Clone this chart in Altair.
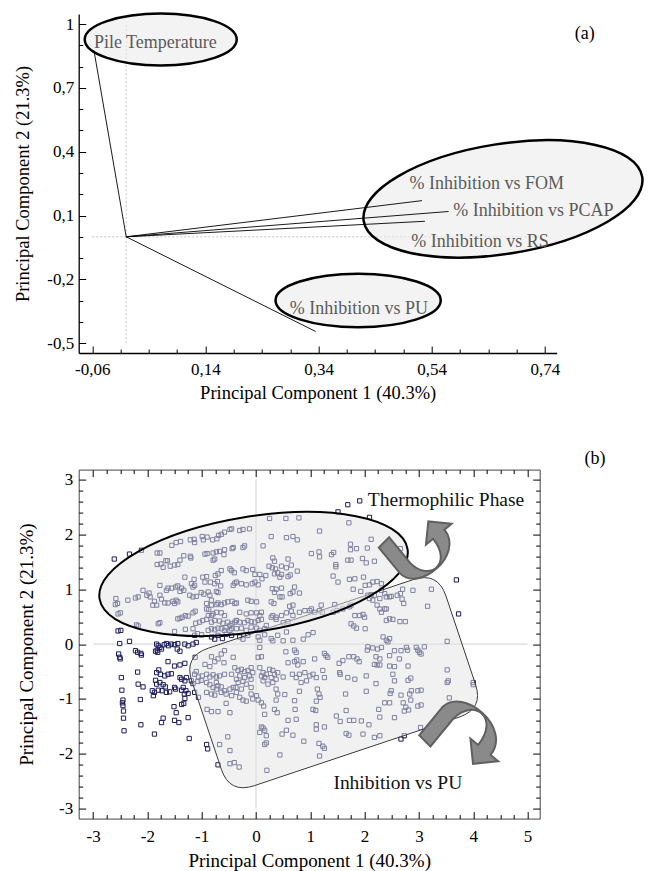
import altair as alt
import pandas as pd

FONT = "Liberation Serif"
NAVY = "#1c1c5c"

# ================= Panel (a): loadings =================
load_names = ["Pile Temperature", "% Inhibition vs FOM", "% Inhibition vs PCAP",
              "% Inhibition vs RS", "% Inhibition vs PU"]
load_pc1 = [-0.057, 0.523, 0.570, 0.528, 0.335]
load_pc2 = [0.875, 0.170, 0.119, 0.073, -0.445]
label_pc1 = [-0.057, 0.501, 0.578, 0.504, 0.289]
label_pc2 = [0.909, 0.249, 0.120, -0.025, -0.338]

a_x_major = [-0.06, 0.14, 0.34, 0.54, 0.74]
a_x_minor = [-0.01, 0.04, 0.09, 0.19, 0.24, 0.29, 0.39, 0.44, 0.49, 0.59, 0.64, 0.69]
a_y_major = [-0.5, -0.2, 0.1, 0.4, 0.7, 1.0]
a_y_minor = [-0.4, -0.3, -0.1, 0.0, 0.2, 0.3, 0.5, 0.6, 0.8, 0.9]
a_x_domain = [-0.084, 0.761]
a_y_domain = [-0.546, 1.047]

# annotation ellipses in (a): centre (data), half axes (px), tilt (deg)
a_ell_pc1 = [0.061, 0.666, 0.410]
a_ell_pc2 = [0.927, 0.178, -0.299]
a_ell_rx = [76, 141, 82.6]
a_ell_ry = [26, 55, 26.7]
a_ell_tilt = [0, 9, 0]

# ================= Panel (b): scores =================
scores_upper_left = [
    (-2.61, 1.55), (-2.33, 1.64), (-2.11, 1.71),
    (-1.82, 1.66), (-1.77, 1.66), (-1.66, 1.52), (-1.63, 1.52), (-1.82, 1.45), (-1.75, 1.46), (-1.71, 1.40),
    (-1.58, 1.42), (-1.50, 1.44), (-1.44, 1.45), (-1.40, 1.53),
    (-1.55, 1.80), (-1.47, 1.85), (-1.39, 1.87), (-1.33, 1.61),
    (-1.21, 1.90), (-1.14, 1.91), (-1.13, 1.85), (-1.21, 1.60), (-1.20, 1.57),
    (-0.99, 1.96), (-0.90, 1.95), (-0.97, 1.90), (-0.80, 1.90), (-0.72, 1.92), (-0.69, 1.98), (-0.64, 2.00),
    (-0.58, 2.04), (-0.48, 2.09), (-0.45, 2.10),
    (-0.94, 1.64), (-0.90, 1.65), (-0.79, 1.66), (-0.73, 1.68), (-0.67, 1.69), (-0.58, 1.72), (-0.59, 1.63),
    (-0.44, 1.74), (-0.42, 1.76), (-0.79, 1.53), (-0.76, 1.55),
    (-1.31, 1.22), (-1.14, 1.18), (-1.13, 1.07), (-1.19, 1.10), (-1.16, 1.04),
    (-0.98, 1.22), (-0.91, 1.23), (-0.94, 1.13),
    (-0.75, 1.25), (-0.70, 1.28), (-0.64, 1.34), (-0.48, 1.37), (-0.45, 1.34), (-0.40, 1.30),
    (-0.84, 1.13), (-0.76, 1.10), (-0.65, 1.06), (-0.71, 1.14), (-0.42, 1.07), (-0.39, 1.11),
    (-1.48, 1.04), (-1.44, 1.06), (-1.37, 1.02), (-1.40, 0.96), (-1.33, 0.98), (-1.55, 1.02), (-1.62, 1.02), (-1.65, 0.98),
    (-1.77, 1.07), (-1.77, 0.89),
    (-1.97, 0.93), (-2.01, 0.89), (-1.95, 0.86), (-2.08, 0.98), (-2.17, 0.86), (-2.22, 0.84), (-2.36, 0.80),
    (-2.58, 0.83), (-2.55, 0.74), (-2.59, 0.72), (-2.54, 0.55), (-2.50, 0.57),
    (-1.90, 0.71), (-1.87, 0.78), (-1.83, 0.71),
    (-1.74, 0.82), (-1.68, 0.75), (-1.62, 0.75), (-1.53, 0.78), (-1.47, 0.80), (-1.50, 0.74), (-1.44, 0.77),
    (-1.22, 0.89), (-1.16, 0.86), (-1.10, 0.87),
    (-1.01, 0.94), (-0.96, 0.91), (-0.88, 0.95), (-0.85, 0.89), (-0.73, 0.96), (-0.70, 0.94),
    (-0.91, 0.74), (-0.82, 0.71), (-0.73, 0.72), (-0.70, 0.75), (-0.64, 0.72), (-0.58, 0.75), (-0.52, 0.77),
    (-0.44, 0.78), (-0.39, 0.74), (-0.36, 0.75), (-0.82, 0.80),
    (-1.44, 0.46), (-1.40, 0.47), (-1.36, 0.49), (-1.30, 0.52), (-1.25, 0.51),
    (-1.16, 0.57), (-1.12, 0.60),
    (-1.11, 0.38), (-1.04, 0.40), (-0.98, 0.43), (-0.91, 0.45),
    (-0.88, 0.52), (-0.82, 0.52), (-0.79, 0.55), (-0.73, 0.58), (-0.91, 0.64), (-0.87, 0.63),
    (-0.64, 0.57), (-0.58, 0.52),
    (-0.82, 0.40), (-0.76, 0.43), (-0.67, 0.42), (-0.61, 0.38), (-0.52, 0.40), (-0.48, 0.34), (-0.44, 0.37),
    (-0.39, 0.40), (-0.36, 0.43),
    (-1.30, 0.27), (-1.50, 0.23), (-1.16, 0.28),
    (-2.20, 0.35), (-2.17, 0.33), (-1.80, 0.37), (-1.77, 0.39), (-2.54, 0.24), (-2.49, 0.25),
    (-0.88, 0.25), (-0.82, 0.28), (-0.76, 0.26), (-0.70, 0.29), (-0.64, 0.28), (-0.58, 0.25), (-0.55, 0.30),
    (-0.48, 0.25), (-0.45, 0.28),
    (-1.13, 0.16), (-1.08, 0.19), (-1.00, 0.17),
    (-0.82, 0.13), (-0.76, 0.09), (-0.70, 0.16), (-0.62, 0.10), (-0.55, 0.18), (-0.45, 0.16),
    (-2.33, 0.05),
]
scores_upper_mid = [
    (1.69, 2.54), (1.91, 2.61), (1.51, 2.41), (0.25, 2.29), (0.55, 2.29), (0.79, 2.30), (2.09, 2.31), (1.71, 2.21),
    (-0.24, 2.09), (-0.12, 2.10), (1.17, 2.06), (-0.30, 2.07),
    (0.28, 1.96), (0.56, 1.94), (0.68, 1.96), (0.76, 1.90), (2.12, 1.91), (0.13, 1.79), (-0.24, 1.76), (-0.21, 1.79),
    (1.74, 1.82), (1.74, 1.72), (1.85, 1.74), (2.05, 1.75),
    (1.02, 1.65), (1.16, 1.68), (1.17, 1.59), (1.39, 1.63), (1.43, 1.67),
    (0.31, 1.57), (0.34, 1.51), (0.59, 1.55),
    (1.69, 1.53), (1.75, 1.53), (1.96, 1.56), (2.03, 1.48), (2.18, 1.51), (1.47, 1.45), (1.47, 1.41),
    (0.24, 1.42), (0.30, 1.39), (0.36, 1.37), (0.47, 1.42), (0.56, 1.39), (0.65, 1.44), (0.63, 1.26), (0.59, 1.23),
    (0.76, 1.33), (0.34, 1.28), (0.40, 1.30), (0.47, 1.27), (0.44, 1.22),
    (0.07, 1.27), (0.18, 1.25), (0.11, 1.19),
    (-0.24, 1.37), (-0.18, 1.34), (-0.06, 1.36), (-0.02, 1.27),
    (-0.36, 1.13), (-0.27, 1.10), (-0.18, 1.08), (-0.07, 1.10), (-0.02, 1.13), (0.04, 1.08),
    (1.42, 1.24), (1.51, 1.13), (1.72, 1.18), (1.82, 1.19), (1.98, 1.22), (2.01, 1.07), (2.09, 1.08), (2.15, 1.13),
    (2.23, 1.14), (2.31, 1.10),
    (1.79, 1.00), (1.93, 0.96), (2.06, 0.89), (2.12, 0.90), (2.18, 0.89),
    (0.30, 1.01), (0.37, 1.00), (0.47, 1.02), (0.34, 0.94), (0.44, 0.86), (0.48, 0.86),
    (0.63, 0.92), (0.68, 0.95), (0.80, 0.93), (0.71, 1.04),
    (-0.15, 0.80), (-0.09, 0.78), (0.01, 0.77), (0.28, 0.77), (0.33, 0.74), (0.62, 0.69), (0.68, 0.71),
    (1.02, 0.64), (1.20, 0.71), (1.45, 0.72), (1.72, 0.68), (1.75, 0.71),
    (2.31, 0.98), (2.37, 0.92), (2.40, 0.86), (2.28, 0.83), (2.46, 0.86),
    (2.09, 0.83), (2.15, 0.80), (2.23, 0.71), (2.28, 0.64), (2.37, 0.64),
    (-0.30, 0.58), (-0.18, 0.55), (-0.09, 0.57), (0.01, 0.57), (0.07, 0.52), (0.10, 0.58),
    (0.31, 0.52), (0.37, 0.49), (0.47, 0.52), (0.56, 0.57), (0.65, 0.60), (0.68, 0.52),
    (0.80, 0.58), (0.90, 0.61), (0.99, 0.61), (1.08, 0.58), (1.17, 0.61), (1.22, 0.58),
    (-0.36, 0.43), (-0.30, 0.40), (-0.21, 0.39), (-0.15, 0.43), (-0.09, 0.41), (-0.02, 0.40), (0.04, 0.43), (0.10, 0.45),
    (0.28, 0.49), (0.37, 0.45), (0.50, 0.39), (0.59, 0.41),
    (-0.36, 0.28), (-0.27, 0.29), (-0.18, 0.25), (-0.09, 0.31), (0.01, 0.29), (0.07, 0.25), (0.16, 0.28), (0.19, 0.34),
    (1.05, 0.21), (0.68, 0.07), (0.87, 0.09), (0.96, 0.17), (0.28, 0.10), (0.40, 0.16), (0.56, 0.22),
    (-0.30, 0.13), (-0.24, 0.09), (-0.15, 0.16), (0.04, 0.13), (0.07, 0.07), (0.16, 0.17),
    (1.42, 0.58), (1.49, 0.61), (1.60, 0.64),
    (1.82, 0.52), (1.91, 0.52), (1.97, 0.54), (2.00, 0.49),
    (1.75, 0.37), (1.80, 0.33), (1.85, 0.29), (2.01, 0.28),
    (2.31, 0.58), (2.40, 0.64), (2.40, 0.43), (2.46, 0.46),
    (2.34, 0.13), (2.40, 0.07), (2.43, 0.04),
]
scores_upper_right = [
    (2.66, 1.74), (3.69, 1.17), (2.49, 0.87), (2.60, 0.89), (2.66, 0.92), (2.70, 1.00), (2.69, 0.82),
    (2.89, 0.98), (3.23, 1.00), (2.72, 0.74), (3.16, 0.69), (3.73, 0.55), (2.52, 0.45), (2.65, 0.41),
    (2.75, 0.41), (3.52, 0.05), (2.46, 0.10),
]
scores_lower_left = [
    (-2.51, 0.01), (-2.53, -0.18), (-2.51, -0.24), (-2.50, -0.27), (-2.48, -0.61), (-2.47, -0.84),
    (-2.45, -1.02), (-2.46, -1.07), (-2.45, -1.12), (-2.44, -1.22), (-2.44, -1.35), (-2.43, -1.58),
    (-2.22, -0.12), (-2.18, -0.15), (-2.11, -0.20), (-2.12, -0.17), (-2.18, -0.51), (-2.17, -0.73),
    (-2.08, -0.78), (-2.13, -1.01), (-2.12, -1.47), (-1.87, -1.64),
    (-1.83, 0.00), (-1.80, -0.03), (-1.77, -0.06), (-1.82, -0.11), (-1.74, -0.09), (-1.69, -0.01),
    (-1.65, 0.01), (-1.61, -0.03), (-1.56, 0.00), (-1.81, -0.15), (-1.85, -0.13),
    (-1.50, -0.01), (-1.45, -0.09), (-1.40, -0.13), (-1.31, 0.00), (-1.25, -0.03), (-1.16, 0.00),
    (-1.10, 0.03), (-1.44, 0.01),
    (-1.62, -0.32), (-1.50, -0.40), (-1.40, -0.38), (-1.31, -0.35),
    (-1.79, -0.47), (-1.83, -0.52), (-1.76, -0.55), (-1.68, -0.58), (-1.62, -0.55), (-1.56, -0.54),
    (-1.85, -0.66), (-1.77, -0.70), (-1.83, -0.73), (-1.91, -0.85), (-1.87, -0.88), (-1.89, -0.94),
    (-1.80, -0.84), (-1.73, -0.85), (-1.65, -0.88), (-1.59, -0.87), (-1.71, -0.74), (-1.67, -0.78),
    (-1.50, -0.79), (-1.48, -0.82), (-1.40, -0.61), (-1.37, -0.64), (-1.31, -0.67), (-1.28, -0.61),
    (-1.34, -0.79), (-1.29, -0.85), (-1.25, -0.90), (-1.32, -0.91), (-1.37, -0.84),
    (-1.31, -0.99), (-1.37, -1.10), (-1.33, -1.08), (-1.51, -1.14), (-1.47, -1.25), (-1.50, -1.39),
    (-1.42, -1.43), (-1.71, -1.35), (-1.74, -1.43), (-1.25, -1.34), (-1.23, -1.72), (-1.12, -0.24),
    (-0.91, -1.83), (-0.89, -1.91), (-0.67, -1.83), (-0.48, -1.94), (-0.70, -2.20), (-0.52, -1.69),
    (-0.48, -2.18), (-0.40, -2.16),
    (-1.10, -0.50), (-1.13, -0.55), (-1.06, -0.60), (-0.99, -0.58), (-0.91, -0.55), (-0.85, -0.60),
    (-0.79, -0.56), (-0.73, -0.60), (-0.67, -0.58), (-0.58, -0.55), (-0.45, -0.55),
    (-0.94, -0.37), (-0.85, -0.41), (-0.76, -0.32), (-0.70, -0.27), (-0.59, -0.34), (-0.82, -0.23),
    (-0.64, -0.18), (-0.58, -0.12), (-0.42, -0.24),
    (-1.19, -0.67), (-1.16, -0.72), (-1.07, -0.68), (-1.01, -0.66), (-0.91, -0.70), (-0.85, -0.74),
    (-0.79, -0.79), (-0.73, -0.82), (-0.64, -0.78), (-0.58, -0.85), (-0.48, -0.82), (-0.42, -0.79),
    (-0.73, -0.70), (-0.70, -0.76),
    (-1.13, -0.88), (-1.06, -0.97), (-0.91, -0.88), (-0.82, -0.91), (-0.76, -0.93), (-0.64, -0.88),
    (-0.55, -0.91), (-0.45, -0.94),
    (-0.90, -1.19), (-0.82, -1.23), (-0.70, -1.23), (-0.48, -1.25), (-0.55, -1.08),
]
scores_lower_mid = [
    (0.07, -0.06), (0.10, -0.23), (0.04, -0.24), (0.31, 0.06), (0.50, 0.06),
    (0.55, -0.14), (0.71, -0.11), (0.74, -0.15),
    (0.59, -0.34), (0.71, -0.32), (0.75, -0.29), (0.77, -0.38), (0.87, -0.32), (1.08, -0.27),
    (1.26, -0.17), (1.29, -0.21), (1.32, -0.24),
    (1.53, -0.35), (1.55, -0.55), (1.54, -0.52),
    (1.60, -0.30), (1.71, -0.23), (1.80, -0.23), (1.86, -0.27), (1.90, -0.32),
    (2.06, -0.05), (2.05, -0.11), (2.15, -0.07), (2.24, -0.09), (2.31, -0.06), (2.21, -0.23), (2.28, -0.27),
    (2.18, -0.37), (2.23, -0.38), (2.28, -0.38), (2.46, -0.21), (2.46, -0.40),
    (-0.39, -0.43), (-0.33, -0.48), (-0.27, -0.46), (-0.21, -0.50), (-0.15, -0.48), (-0.09, -0.43),
    (-0.06, -0.52), (-0.30, -0.58), (-0.21, -0.61), (-0.36, -0.64), (-0.33, -0.70), (-0.24, -0.68),
    (-0.12, -0.58), (-0.09, -0.64), (-0.18, -0.73), (-0.37, -0.79), (-0.27, -0.82), (-0.09, -0.79),
    (0.07, -0.43), (0.13, -0.52), (0.10, -0.58), (0.16, -0.61), (0.19, -0.55), (0.25, -0.46), (0.31, -0.48),
    (0.34, -0.55), (0.37, -0.64), (0.31, -0.70), (0.22, -0.73), (0.13, -0.67), (0.28, -0.61), (0.40, -0.52),
    (0.50, -0.60),
    (-0.09, -0.91), (-0.06, -1.00), (0.04, -1.02), (0.10, -1.07), (0.01, -0.94), (0.14, -1.13),
    (0.37, -0.82), (0.40, -0.91), (0.37, -1.02), (0.53, -0.92), (0.71, -1.03), (0.72, -1.19),
    (0.67, -0.55), (0.74, -0.61), (0.80, -0.55), (0.83, -0.70), (0.90, -0.52), (0.93, -0.67), (0.99, -0.58),
    (1.05, -0.55), (1.11, -0.61), (0.80, -0.86),
    (1.13, -0.82), (1.16, -0.91), (1.18, -0.97), (1.11, -1.04), (1.05, -1.19), (1.10, -1.21),
    (1.23, -0.48), (1.26, -0.61), (1.69, -0.61), (1.82, -0.64), (2.03, -0.58),
    (1.65, -0.91), (2.03, -0.86), (2.21, -0.72), (2.47, -0.90), (2.46, -1.07), (2.37, -1.07),
    (2.26, -1.19), (2.28, -1.33), (1.66, -1.21),
    (1.48, -1.31), (1.55, -1.41), (1.72, -1.39), (1.80, -1.39), (1.94, -1.40), (2.08, -1.47),
    (1.66, -1.63), (1.71, -1.66), (1.97, -1.64), (2.18, -1.70), (2.28, -1.67),
    (0.16, -1.28), (0.10, -1.51), (0.13, -1.53), (0.16, -1.57), (0.07, -1.61), (0.19, -1.67), (0.16, -1.83),
    (0.19, -1.80), (0.34, -1.19), (0.39, -1.25), (0.59, -1.39), (0.74, -1.37),
    (0.56, -1.57), (0.48, -1.64), (0.68, -1.66), (0.88, -1.77),
    (1.11, -1.47), (1.11, -1.55), (1.26, -1.51),
    (1.16, -1.81), (1.23, -1.86), (1.26, -1.90), (1.17, -2.04),
    (0.44, -2.02), (0.20, -2.30), (-0.31, -2.24),
    (-0.36, -0.88), (-0.30, -0.97), (-0.24, -1.02), (-0.18, -1.04),
]
scores_lower_right = [
    (2.55, -0.12), (2.67, -0.12), (2.77, -0.06), (2.79, -0.11), (2.95, -0.06), (2.98, -0.11), (3.01, -0.15),
    (3.04, -0.18), (3.10, -0.05), (2.64, -0.27), (2.80, -0.40), (2.55, -0.41), (3.52, -0.47),
    (2.52, -0.55), (2.55, -0.67), (2.80, -0.66), (2.85, -0.62),
    (3.52, -0.70), (3.54, -0.67), (4.00, -0.70), (4.00, -0.74),
    (2.49, -0.85), (2.67, -0.93), (2.71, -1.07), (2.83, -0.91), (2.86, -0.85), (2.98, -0.85), (3.04, -0.84),
    (2.85, -1.02), (2.98, -1.13), (3.04, -1.11),
    (2.55, -1.34), (2.73, -1.22), (2.81, -1.20), (2.76, -1.15),
    (3.56, -0.98), (3.03, -1.52), (2.73, -1.67), (2.67, -1.73),
]

b_x_major = [-3, -2, -1, 0, 1, 2, 3, 4, 5]
b_x_minor = [v / 4 for v in range(-12, 21) if v % 4 != 0]
b_y_major = [-3, -2, -1, 0, 1, 2, 3]
b_y_minor = [round(v / 5, 1) for v in range(-15, 16) if v % 5 != 0]
b_x_domain = [-3.265, 5.224]
b_y_domain = [-3.18, 3.18]

# annotation shapes in (b): centre (data), sizes (px), tilt (deg)
b_ell_centre = (-0.045, 1.277)
b_ell_rx, b_ell_ry, b_ell_tilt = 156, 57.5, 9.2
b_box_centre = (1.43, -0.703)
b_box_hw, b_box_hh, b_box_r, b_box_tilt = 134, 72.5, 26, 18.5
b_arrow_up_at = (2.95, 1.684)
b_arrow_down_at = (3.753, -1.582)

b_text = ["Thermophilic Phase", "Inhibition vs PU"]
b_text_pc1 = [2.06, 1.425]
b_text_pc2 = [2.63, -2.53]


# ================= helpers =================
def f(v):
    return f"{v:.2f}"


def ellipse_path(rx, ry):
    k = 0.5523
    return (f"M {f(-rx)} 0 C {f(-rx)} {f(-k*ry)} {f(-k*rx)} {f(-ry)} 0 {f(-ry)} "
            f"C {f(k*rx)} {f(-ry)} {f(rx)} {f(-k*ry)} {f(rx)} 0 "
            f"C {f(rx)} {f(k*ry)} {f(k*rx)} {f(ry)} 0 {f(ry)} "
            f"C {f(-k*rx)} {f(ry)} {f(-rx)} {f(k*ry)} {f(-rx)} 0 Z")


def rounded_box_path(w, h, r):
    return (f"M {f(-w+r)} {f(-h)} L {f(w-r)} {f(-h)} Q {f(w)} {f(-h)} {f(w)} {f(-h+r)} "
            f"L {f(w)} {f(h-r)} Q {f(w)} {f(h)} {f(w-r)} {f(h)} "
            f"L {f(-w+r)} {f(h)} Q {f(-w)} {f(h)} {f(-w)} {f(h-r)} "
            f"L {f(-w)} {f(-h+r)} Q {f(-w)} {f(-h)} {f(-w+r)} {f(-h)} Z")


ARROW = [("M", [(-40.6, 4.4)]), ("L", [(-17.6, -23.6)]),
         ("C", [(3.4, -44.6), (52.7, -3.0), (30.7, 24.0)]),
         ("L", [(38.4, 30.3)]), ("L", [(13.2, 32.9)]), ("L", [(10.6, 7.7)]), ("L", [(18.3, 14.0)]),
         ("C", [(40.3, -13.0), (14.6, -33.4), (-6.4, -12.4)]), ("L", [(-29.4, 15.6)])]


def arrow_path(flip=False, s=1.0):
    out = []
    for cmd, pts in ARROW:
        out.append(cmd + " " + " ".join(f"{f(x*s)} {f((-y if flip else y)*s)}" for x, y in pts))
    return " ".join(out) + " Z"


def scl(dom):
    return alt.Scale(domain=dom, nice=False, zero=False)


def XE(field, dom):
    return alt.X(field, scale=scl(dom), axis=None)


def YE(field, dom):
    return alt.Y(field, scale=scl(dom), axis=None)


def axis_layer(xdom, ydom, xaxis, yaxis):
    d = pd.DataFrame({"x": [sum(xdom) / 2], "y": [sum(ydom) / 2]})
    return alt.Chart(d).mark_point(opacity=0).encode(
        x=alt.X("x:Q", scale=scl(xdom), axis=xaxis),
        y=alt.Y("y:Q", scale=scl(ydom), axis=yaxis),
    )


def tick_layer(xdom, ydom, xvals, yvals, xorient, yorient, size):
    common = dict(labels=False, domain=False, ticks=True, tickSize=size, offset=-size,
                  grid=False, tickColor="black", tickWidth=1, title="")
    return axis_layer(xdom, ydom,
                      alt.Axis(orient=xorient, values=xvals, **common),
                      alt.Axis(orient=yorient, values=yvals, **common))


def shape_layer(pc1, pc2, path, dom_x, dom_y, tilt=0.0, fill="#eeeeee", fill_op=0.6,
                stroke="black", sw=2.0):
    d = pd.DataFrame({"pc1": [pc1], "pc2": [pc2]})
    return alt.Chart(d).mark_point(
        shape=path, size=4, filled=True, fill=fill, fillOpacity=fill_op,
        stroke=stroke, strokeWidth=sw, opacity=1, angle=(360 - tilt) % 360,
    ).encode(x=XE("pc1:Q", dom_x), y=YE("pc2:Q", dom_y))


# ================= panel (a) =================
grid_a = pd.DataFrame({"x": [0, -0.06], "x2": [0, 0.74], "y": [-0.5, 0], "y2": [1.0, 0]})
lab_a_x = "replace(replace(format(datum.value, '.2f'), '.', ','), '\u2212', '-')"
lab_a_y = ("datum.value == 1 ? '1' : "
           "replace(replace(format(datum.value, '.1f'), '.', ','), '\u2212', '-')")

a_axes = axis_layer(
    a_x_domain, a_y_domain,
    alt.Axis(orient="bottom", values=a_x_major, labelExpr=lab_a_x, ticks=False, domain=True,
             domainWidth=1.3, labelFontSize=17, titleFontSize=18.5,
             labelPadding=8, titlePadding=6, labelFlush=False,
             title="Principal Component 1 (40.3%)"),
    alt.Axis(orient="left", values=a_y_major, labelExpr=lab_a_y, ticks=False, domain=True,
             domainWidth=1.3, labelFontSize=17, titleFontSize=18.5,
             labelPadding=5, titlePadding=14, labelFlush=False,
             title="Principal Component 2 (21.3%)"),
)

a_grid = alt.Chart(grid_a).mark_rule(color="#c4c4c4", strokeDash=[2, 2], strokeWidth=1).encode(
    x=XE("x:Q", a_x_domain), x2="x2:Q", y=YE("y:Q", a_y_domain), y2="y2:Q")

a_ellipses = [shape_layer(a_ell_pc1[i], a_ell_pc2[i], ellipse_path(a_ell_rx[i], a_ell_ry[i]),
                          a_x_domain, a_y_domain, tilt=a_ell_tilt[i], fill="#ebebeb",
                          fill_op=0.6, sw=2.5)
              for i in range(3)]

load_df = pd.DataFrame({"name": load_names, "pc1": load_pc1, "pc2": load_pc2,
                        "x0": [0.0] * 5, "y0": [0.0] * 5,
                        "lx": label_pc1, "ly": label_pc2})
a_lines = alt.Chart(load_df).mark_rule(color="black", strokeWidth=0.9).encode(
    x=XE("x0:Q", a_x_domain), x2="pc1:Q", y=YE("y0:Q", a_y_domain), y2="pc2:Q")
a_labels = alt.Chart(load_df).mark_text(
    align="left", baseline="middle", font=FONT, fontSize=18, color="#5a5a5a").encode(
    x=XE("lx:Q", a_x_domain), y=YE("ly:Q", a_y_domain), text="name:N")
a_tag = alt.Chart(pd.DataFrame({"t": ["(a)"], "x": [0.793], "y": [0.953]})).mark_text(
    align="left", baseline="middle", font=FONT, fontSize=18, color="black").encode(
    x=XE("x:Q", a_x_domain), y=YE("y:Q", a_y_domain), text="t:N")

panel_a = alt.layer(
    a_axes, a_grid, *a_ellipses, a_lines, a_labels, a_tag,
    tick_layer(a_x_domain, a_y_domain, a_x_major, a_y_major, "bottom", "left", 7),
    tick_layer(a_x_domain, a_y_domain, a_x_minor, a_y_minor, "bottom", "left", 4),
).resolve_scale(x="independent", y="independent").properties(width=478, height=339)

# ================= panel (b) =================
grid_b = pd.DataFrame({"x": [0, -3], "x2": [0, 5], "y": [-3, 0], "y2": [3, 0]})
lab_b = "replace(format(datum.value, 'd'), '\u2212', '-')"

b_axes = axis_layer(
    b_x_domain, b_y_domain,
    alt.Axis(orient="bottom", values=b_x_major, labelExpr=lab_b, ticks=False, domain=False,
             labelFontSize=17, titleFontSize=19, labelPadding=10, titlePadding=7,
             labelFlush=False, title="Principal Component 1 (40.3%)"),
    alt.Axis(orient="left", values=b_y_major, labelExpr=lab_b, ticks=False, domain=False,
             labelFontSize=17, titleFontSize=19, labelPadding=6, titlePadding=22,
             labelFlush=False, title="Principal Component 2 (21.3%)"),
)

b_grid = alt.Chart(grid_b).mark_rule(color="#cfcfcf", strokeWidth=1).encode(
    x=XE("x:Q", b_x_domain), x2="x2:Q", y=YE("y:Q", b_y_domain), y2="y2:Q")

all_scores = (scores_upper_left + scores_upper_mid + scores_upper_right
              + scores_lower_left + scores_lower_mid + scores_lower_right)
scores_df = pd.DataFrame({"pc1": [p[0] for p in all_scores], "pc2": [p[1] for p in all_scores]})
b_points = alt.Chart(scores_df).mark_square(
    filled=False, size=18, strokeWidth=1, color=NAVY, opacity=1).encode(
    x=XE("pc1:Q", b_x_domain), y=YE("pc2:Q", b_y_domain))

b_box = shape_layer(b_box_centre[0], b_box_centre[1],
                    rounded_box_path(b_box_hw, b_box_hh, b_box_r),
                    b_x_domain, b_y_domain, tilt=b_box_tilt, fill="#e4e4e4", fill_op=0.5,
                    stroke="#3a3a3a", sw=0.9)
b_ell = shape_layer(b_ell_centre[0], b_ell_centre[1], ellipse_path(b_ell_rx, b_ell_ry),
                    b_x_domain, b_y_domain, tilt=b_ell_tilt, fill="#e4e4e4", fill_op=0.5,
                    stroke="black", sw=2.0)
b_arrow_up = shape_layer(b_arrow_up_at[0], b_arrow_up_at[1], arrow_path(flip=True, s=0.92),
                         b_x_domain, b_y_domain, fill="#8a8a8a", fill_op=1,
                         stroke="#606060", sw=2)
b_arrow_down = shape_layer(b_arrow_down_at[0], b_arrow_down_at[1], arrow_path(),
                           b_x_domain, b_y_domain, fill="#8a8a8a", fill_op=1,
                           stroke="#606060", sw=2)

b_text_df = pd.DataFrame({"t": b_text, "x": b_text_pc1, "y": b_text_pc2})
b_labels = alt.Chart(b_text_df).mark_text(
    align="left", baseline="middle", font=FONT, fontSize=19.5, color="#111111").encode(
    x=XE("x:Q", b_x_domain), y=YE("y:Q", b_y_domain), text="t:N")
b_tag = alt.Chart(pd.DataFrame({"t": ["(b)"], "x": [6.05], "y": [3.376]})).mark_text(
    align="left", baseline="middle", font=FONT, fontSize=18, color="black").encode(
    x=XE("x:Q", b_x_domain), y=YE("y:Q", b_y_domain), text="t:N")

panel_b = alt.layer(
    b_axes, b_grid, b_points, b_box, b_ell, b_arrow_up, b_arrow_down, b_labels, b_tag,
    tick_layer(b_x_domain, b_y_domain, b_x_major, b_y_major, "bottom", "left", 7),
    tick_layer(b_x_domain, b_y_domain, b_x_minor, b_y_minor, "bottom", "left", 4),
    tick_layer(b_x_domain, b_y_domain, b_x_major, b_y_major, "top", "right", 7),
    tick_layer(b_x_domain, b_y_domain, b_x_minor, b_y_minor, "top", "right", 4),
).resolve_scale(x="independent", y="independent").properties(
    width=461, height=349, view=alt.ViewBackground(stroke="#444444", strokeWidth=1))

chart = alt.vconcat(panel_a, panel_b, spacing=116.6, bounds="flush").properties(
    padding={"left": 13.7, "top": 8, "right": 0, "bottom": 0}
).configure_view(strokeWidth=0).configure_axis(
    labelFont=FONT, titleFont=FONT, labelColor="black", titleColor="black",
    titleFontWeight="normal", grid=False, domainColor="black", tickColor="black")

chart.save("out.html", embed_options={"renderer": "svg", "actions": False})
